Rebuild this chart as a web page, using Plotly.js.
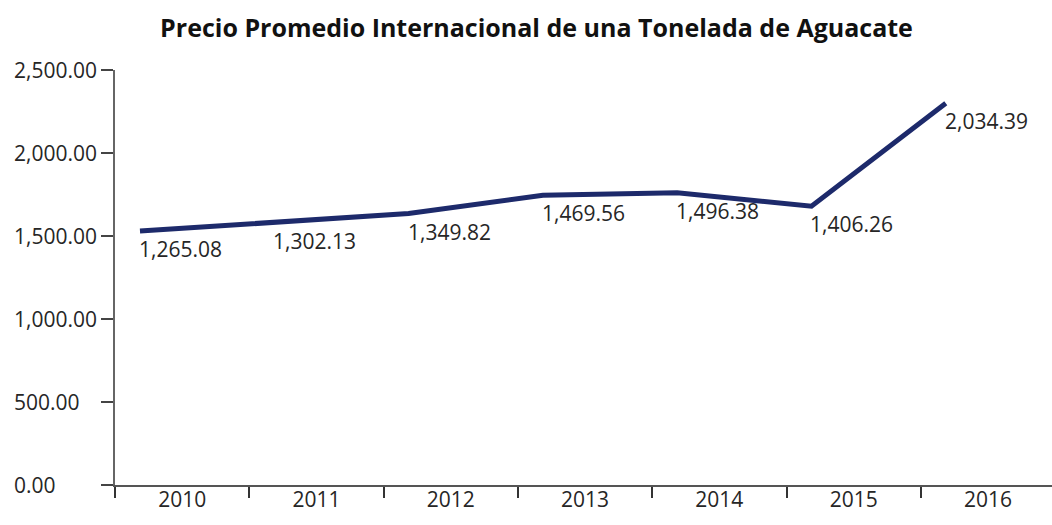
<!DOCTYPE html>
<html>
<head>
<meta charset="utf-8">
<script src="https://cdn.plot.ly/plotly-3.0.1.min.js"></script>
<style>html,body{margin:0;padding:0;background:#fff;}#chart{width:1052px;height:525px;}</style>
</head>
<body>
<div id="chart"></div>
<script>
// ---- data ----
const years = [2010, 2011, 2012, 2013, 2014, 2015, 2016];
// line heights
const linePrice = [1530, 1580, 1635, 1745, 1760, 1680, 2300];
// data label texts as printed in the picture
const labelText = ["1,265.08", "1,302.13", "1,349.82", "1,469.56", "1,496.38", "1,406.26", "2,034.39"];
const yTickVals = [0, 500, 1000, 1500, 2000, 2500];
const yTickText = ["0.00", "500.00", "1,000.00", "1,500.00", "2,000.00", "2,500.00"];
const xTickText = years.map(String);
const titleText = "Precio Promedio Internacional de una Tonelada de Aguacate";

// ---- layout ----
const W = 1052, H = 525;
const mL = 115, mR = 0, mT = 70, mB = 40;
const plotW = W - mL - mR;
const off = 0.186;            // points sit this far right of each category boundary
const xr = [years[0] - off, years[0] - off + plotW / 134.3];
const bounds = years.map(y => y - off).concat([years[years.length - 1] + 1 - off]);
const centers = years.map(y => y - off + 0.5);

const font = "Open Sans, Noto Sans, sans-serif";
const txtCol = "#262626";

const trace = {
  x: years, y: linePrice,
  type: "scatter", mode: "lines",
  line: {color: "#1d2a6b", width: 5},
  cliponaxis: false, hoverinfo: "skip", showlegend: false
};
const dummy = {x: centers, y: centers.map(() => null), xaxis: "x2", type: "scatter", mode: "lines", showlegend: false, hoverinfo: "skip"};

const yAnn = yTickVals.map((v, i) => ({
  xref: "paper", yref: "y", x: -(mL - 12) / plotW, y: v, xanchor: "left", yanchor: "middle",
  text: yTickText[i], showarrow: false, font: {family: font, size: 21, color: txtCol}
}));
const dataAnn = years.map((yr, i) => ({
  xref: "x", yref: "y", x: yr, y: linePrice[i], xanchor: "left", yanchor: "top",
  xshift: -3, yshift: -2,
  text: labelText[i], showarrow: false, font: {family: font, size: 21, color: txtCol}
}));

const layout = {
  width: W, height: H,
  margin: {l: mL, r: mR, t: mT, b: mB, pad: 0},
  paper_bgcolor: "#fff", plot_bgcolor: "#fff",
  title: {text: "<b>" + titleText + "</b>", font: {family: font, size: 25, color: "#111"}, x: 0.51, xanchor: "center", y: 0.947, yanchor: "middle"},
  xaxis: {range: xr, tickmode: "array", tickvals: bounds, showticklabels: false,
          ticks: "outside", ticklen: 11, tickwidth: 2, tickcolor: "#333",
          showline: true, linecolor: "#555", linewidth: 2, showgrid: false, zeroline: false, fixedrange: true},
  xaxis2: {overlaying: "x", anchor: "y", side: "bottom", range: xr, tickmode: "array", tickvals: centers, ticktext: xTickText,
           ticks: "", ticklen: 0, showline: false, showgrid: false, zeroline: false,
           tickfont: {family: font, size: 21, color: txtCol}, fixedrange: true},
  yaxis: {range: [0, 2500], tickmode: "array", tickvals: yTickVals, showticklabels: false,
          ticks: "outside", ticklen: 12, tickwidth: 2, tickcolor: "#444",
          showline: true, linecolor: "#666", linewidth: 2, showgrid: false, zeroline: false, fixedrange: true},
  annotations: yAnn.concat(dataAnn)
};

Plotly.newPlot("chart", [trace, dummy], layout, {displayModeBar: false, staticPlot: true});
</script>
</body>
</html>
